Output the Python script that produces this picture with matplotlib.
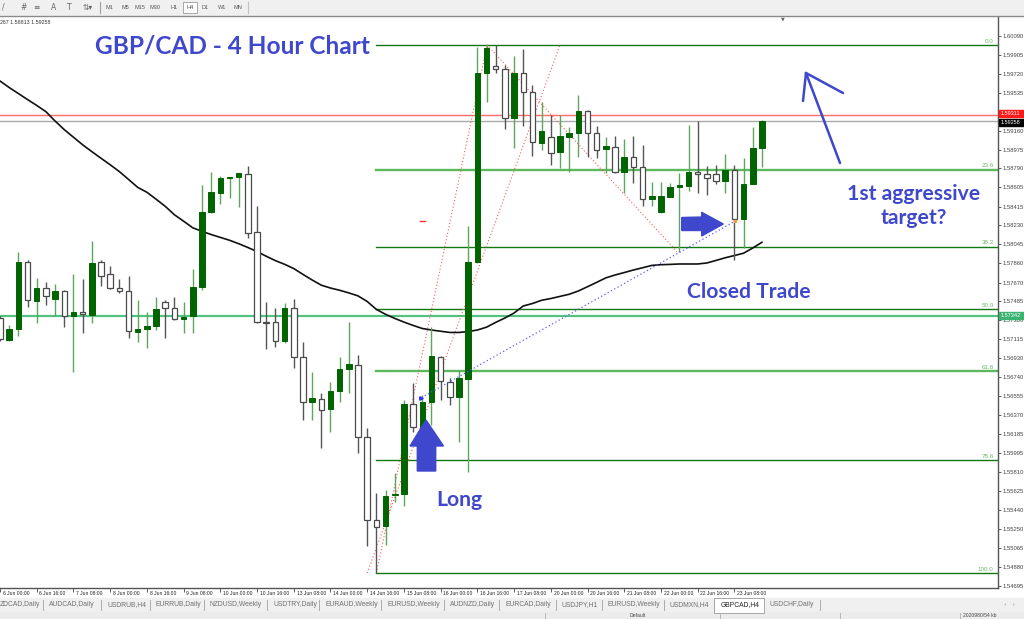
import numpy as np
import matplotlib.pyplot as plt
from matplotlib.patches import Polygon, Rectangle

W, H = 1024, 619

# GBPCAD H4 candles, bar 0 = 6 Jun 00:00
opens = [1.57319, 1.57106, 1.57211, 1.57874, 1.57492, 1.57619, 1.57505, 1.57590, 1.57342, 1.57378,
         1.57348, 1.57869, 1.57751, 1.57613, 1.57590, 1.57187, 1.57211, 1.57243, 1.57482, 1.57423,
         1.57309, 1.57342, 1.57629, 1.58359, 1.58546, 1.58696, 1.58703, 1.58732, 1.58163, 1.57286,
         1.57280, 1.57099, 1.57423, 1.56942, 1.56494, 1.56530, 1.56426, 1.56608, 1.56821, 1.56861,
         1.56157, 1.55339, 1.55280, 1.55582, 1.55591, 1.56475, 1.56255, 1.56494, 1.56936, 1.56697,
         1.56549, 1.56723, 1.57874, 1.59724, 1.59795, 1.59763, 1.59288, 1.59724, 1.59543, 1.59037,
         1.59101, 1.58948, 1.59101, 1.59135, 1.59354, 1.59135, 1.58984, 1.59003, 1.58752, 1.58899,
         1.58801, 1.58487, 1.58365, 1.58512, 1.58611, 1.58620, 1.58758, 1.58732, 1.58732, 1.58669,
         1.58774, 1.58291, 1.58637, 1.58987]
highs = [1.57342, 1.57253, 1.57967, 1.57891, 1.57717, 1.57678, 1.57656, 1.57597, 1.57751, 1.57702,
         1.58075, 1.57891, 1.57832, 1.57705, 1.57734, 1.57499, 1.57378, 1.57525, 1.57494, 1.57525,
         1.57479, 1.57800, 1.58627, 1.58758, 1.58716, 1.58709, 1.58745, 1.58814, 1.58424, 1.57476,
         1.57423, 1.57466, 1.57511, 1.57086, 1.56795, 1.56583, 1.56697, 1.56942, 1.57286, 1.56959,
         1.56239, 1.55601, 1.55634, 1.55803, 1.56517, 1.56681, 1.56566, 1.57236, 1.56950, 1.56730,
         1.56811, 1.58228, 1.59982, 1.60001, 1.60001, 1.59805, 1.59893, 1.59962, 1.59609, 1.59445,
         1.59314, 1.59314, 1.59194, 1.59511, 1.59363, 1.59209, 1.59101, 1.59108, 1.59079, 1.59108,
         1.59020, 1.58660, 1.58660, 1.58650, 1.58742, 1.59216, 1.59255, 1.58814, 1.58824, 1.58929,
         1.58824, 1.58889, 1.59194, 1.59265]
lows = [1.57096, 1.57101, 1.57148, 1.57433, 1.57276, 1.57449, 1.57342, 1.57236, 1.56789, 1.57178,
        1.57276, 1.57636, 1.57604, 1.57564, 1.57129, 1.57089, 1.57027, 1.57204, 1.57129, 1.57302,
        1.57178, 1.57178, 1.57597, 1.58350, 1.58438, 1.58497, 1.58414, 1.58104, 1.57276, 1.57018,
        1.57040, 1.57074, 1.56828, 1.56321, 1.56321, 1.56043, 1.56206, 1.56500, 1.56583, 1.55994,
        1.55084, 1.54816, 1.55094, 1.55519, 1.55477, 1.56206, 1.56223, 1.56272, 1.56517, 1.56468,
        1.56108, 1.55813, 1.57859, 1.59445, 1.59724, 1.59177, 1.58993, 1.59209, 1.58915, 1.58971,
        1.58824, 1.58791, 1.58758, 1.58905, 1.58905, 1.58889, 1.58742, 1.58748, 1.58546, 1.58644,
        1.58421, 1.58421, 1.58352, 1.58512, 1.57973, 1.58571, 1.58552, 1.58529, 1.58634, 1.58546,
        1.57891, 1.58006, 1.58637, 1.58807]
closes = [1.57113, 1.57211, 1.57874, 1.57499, 1.57616, 1.57538, 1.57590, 1.57342, 1.57378, 1.57358,
          1.57859, 1.57734, 1.57613, 1.57590, 1.57194, 1.57211, 1.57243, 1.57407, 1.57417, 1.57309,
          1.57335, 1.57629, 1.58362, 1.58556, 1.58699, 1.58706, 1.58742, 1.58159, 1.57286, 1.57270,
          1.57099, 1.57417, 1.56942, 1.56494, 1.56534, 1.56419, 1.56608, 1.56821, 1.56867, 1.56157,
          1.55339, 1.55273, 1.55575, 1.55591, 1.56475, 1.56255, 1.56494, 1.56949, 1.56704, 1.56549,
          1.56730, 1.57874, 1.59724, 1.59969, 1.59763, 1.59288, 1.59724, 1.59543, 1.59046, 1.59157,
          1.58938, 1.59108, 1.59135, 1.59354, 1.59135, 1.58971, 1.59010, 1.58758, 1.58899, 1.58801,
          1.58487, 1.58519, 1.58519, 1.58611, 1.58627, 1.58752, 1.58732, 1.58693, 1.58669, 1.58774,
          1.58291, 1.58637, 1.58987, 1.59258]
# moving average (black line)
ma = [1.59648, 1.59584, 1.59525, 1.59466, 1.59408, 1.59347, 1.59255, 1.59171, 1.59096, 1.59022,
      1.58955, 1.58890, 1.58826, 1.58759, 1.58682, 1.58604, 1.58556, 1.58488, 1.58418, 1.58335,
      1.58272, 1.58207, 1.58173, 1.58141, 1.58113, 1.58085, 1.58051, 1.58014, 1.57974, 1.57928,
      1.57885, 1.57849, 1.57807, 1.57750, 1.57695, 1.57644, 1.57616, 1.57594, 1.57568, 1.57539,
      1.57484, 1.57406, 1.57358, 1.57318, 1.57282, 1.57249, 1.57219, 1.57204, 1.57192, 1.57180,
      1.57180, 1.57189, 1.57204, 1.57232, 1.57279, 1.57322, 1.57371, 1.57440, 1.57464, 1.57496,
      1.57513, 1.57534, 1.57555, 1.57587, 1.57629, 1.57672, 1.57716, 1.57744, 1.57768, 1.57793,
      1.57815, 1.57838, 1.57845, 1.57848, 1.57852, 1.57852, 1.57852, 1.57862, 1.57887, 1.57913,
      1.57935, 1.57958, 1.58009, 1.58065]

date_labels = ["6 Jun 00:00", "6 Jun 16:00", "7 Jun 08:00", "8 Jun 00:00", "8 Jun 16:00",
               "9 Jun 08:00", "10 Jun 00:00", "10 Jun 16:00", "13 Jun 08:00", "14 Jun 00:00",
               "14 Jun 16:00", "15 Jun 08:00", "16 Jun 00:00", "16 Jun 16:00", "17 Jun 08:00",
               "20 Jun 00:00", "20 Jun 16:00", "21 Jun 08:00", "22 Jun 00:00", "22 Jun 16:00",
               "23 Jun 08:00"]
price_ticks = [1.60090, 1.59905, 1.59720, 1.59535, 1.59345, 1.59160, 1.58975, 1.58790, 1.58605,
               1.58415, 1.58230, 1.58045, 1.57860, 1.57670, 1.57485, 1.57300, 1.57115, 1.56930,
               1.56740, 1.56555, 1.56370, 1.56185, 1.55995, 1.55810, 1.55625, 1.55440, 1.55250,
               1.55065, 1.54880, 1.54695]

fib_levels = [0.0, 23.6, 38.2, 50.0, 61.8, 78.6, 100.0]
fib_high, fib_low, fib_bar = 1.60002, 1.54819, 41
ask_line, bid_line, support_line = 1.59311, 1.59258, 1.57342

tabs = ["ZDCAD,Daily", "AUDCAD,Daily", "USDRUB,H4", "EURRUB,Daily", "NZDUSD,Weekly",
        "USDTRY,Daily", "EURAUD,Weekly", "EURUSD,Weekly", "AUDNZD,Daily", "EURCAD,Daily",
        "USDJPY,H1", "EURUSD,Weekly", "USDMXN,H4", "GBPCAD,H4", "USDCHF,Daily"]
tab_x = [0, 49, 107, 156, 210, 273, 325, 387, 450, 505, 562, 608, 670, 721, 770]
timeframes = ["M1", "M5", "M15", "M30", "H1", "H4", "D1", "W1", "MN"]
tf_x = [109, 125, 140, 155, 174, 190, 205, 222, 238]

BLUE = '#3f48cc'
SMALL = 'Liberation Sans'


def fx(x):
    return x / W


def fy(y):
    return 1 - y / H


fig = plt.figure(figsize=(W / 100, H / 100), dpi=100)
fig.patch.set_facecolor('white')
ax = fig.add_axes([0, (H - 587.7) / H, 997.7 / W, (587.7 - 17) / H])

o, h, l, c = map(np.array, (opens, highs, lows, closes))
x = np.arange(len(c))
up = c >= o
dn = ~up

# horizontal lines
ax.axhline(ask_line, color='#ff6a6a', lw=1, zorder=1)
ax.axhline(bid_line, color='#a9a9a9', lw=1, zorder=1)
ax.axhline(support_line, color='#52c283', lw=1.6, zorder=1)

# fibonacci
x_right = 108.68
for lv in fib_levels:
    p = fib_high - lv / 100 * (fib_high - fib_low)
    light = lv in (23.6, 61.8)
    ax.plot([fib_bar, x_right], [p, p], color='#5cb85c' if light else '#137a13',
            lw=1.7 if light else 1.0, zorder=2)
    ax.text(x_right - 0.45, p + 0.00012, f"{lv:.1f}", ha='right', va='bottom',
            fontsize=4.5, family=SMALL, color='#6cb86c', zorder=5)

# red dotted fib trend lines
ax.plot([fib_bar, 53.06], [fib_low, fib_high], color='#ff5a5a', lw=0.8, ls=(0, (1, 2)), zorder=3)
ax.plot([40.0, 61.0], [fib_low, fib_high], color='#ff5a5a', lw=0.8, ls=(0, (1, 2)), zorder=3)
ax.plot([53.06, 73.74], [fib_high, 1.57973], color='#ff5a5a', lw=0.8, ls=(0, (1, 2)), zorder=3)

# moving average
ax.plot(x, ma, color='#111111', lw=1.2, zorder=4)

# candles
ax.vlines(x[up], l[up], h[up], color='#5fa55f', lw=1.0, zorder=5)
ax.vlines(x[dn], l[dn], h[dn], color='#555555', lw=1.0, zorder=5)
ax.bar(x[up], c[up] - o[up], bottom=o[up], width=0.6, color='#006400',
       edgecolor='#006400', lw=0.7, zorder=6)
ax.bar(x[dn], o[dn] - c[dn], bottom=c[dn], width=0.6, facecolor='white',
       edgecolor='#4a4a4a', lw=0.9, zorder=6)

# closed trade line
ax.plot([45.9, 80.1], [1.56540, 1.58274], color='#5a5aff', lw=0.9, ls=(0, (1, 2)), zorder=7)
ax.plot([45.9], [1.56540], marker='>', color='#3030ff', ms=2.5, zorder=8)
ax.plot([80.1], [1.58274], marker='s', color='#f0a040', ms=2, zorder=8)
ax.plot([45.7, 46.3], [1.58277, 1.58277], color='#ff3030', lw=1, zorder=8)

ax.set_xlim(0.09, x_right)
ax.set_ylim(1.54675, 1.60276)

# axes styling
for s in ('top', 'left'):
    ax.spines[s].set_visible(False)
for s in ('right', 'bottom'):
    ax.spines[s].set_color('#555555')
    ax.spines[s].set_linewidth(1)
ax.yaxis.tick_right()
ax.set_yticks(price_ticks)
ax.set_yticklabels([f"{p:.5f}" for p in price_ticks], fontsize=4.2, family=SMALL,
                   color='#222222')
ax.tick_params(axis='y', length=2.2, width=0.6, pad=1.0, colors='#444444')
ax.set_xticks(np.arange(len(date_labels)) * 4)
ax.set_xticklabels([])
ax.tick_params(axis='x', length=3, width=0.6, colors='#444444')
for i, lab in enumerate(date_labels):
    ax.annotate(lab, xy=(i * 4, 0), xycoords=('data', 'axes fraction'), xytext=(2.0, -2.2),
                textcoords='offset points', ha='left', va='top', fontsize=3.6,
                family=SMALL, color='#222222')

# price boxes on the right axis (red ask box nudged up, black bid box down, as MT4 stacks them)
for price, bg, shift in ((ask_line, '#ff1a1a', -2.2), (bid_line, '#000000', 1.6),
                         (support_line, '#3cb371', 0)):
    ypix = (1.60443 - price) / 0.00009815 + shift
    fig.patches.append(Rectangle((fx(998.5), fy(ypix + 3.5)), fx(25.5), 7 / H,
                                 transform=fig.transFigure, color=bg, zorder=10))
    fig.text(fx(1000.5), fy(ypix), f"{price:.5f}", color='white', fontsize=4.0,
             family=SMALL, va='center', ha='left', zorder=11)

# annotations
fig.text(fx(95), fy(46), "GBP/CAD - 4 Hour Chart", color=BLUE, fontsize=17.6,
         family='Lato', weight='bold', va='center', ha='left')
fig.text(fx(914), fy(206), "1st aggressive\ntarget?", color=BLUE, fontsize=15.2,
         family='Lato', weight='bold', va='center', ha='center', linespacing=1.3)
fig.text(fx(749), fy(292), "Closed Trade", color=BLUE, fontsize=15.2,
         family='Lato', weight='bold', va='center', ha='center')
fig.text(fx(459), fy(500), "Long", color=BLUE, fontsize=15.2,
         family='Lato', weight='bold', va='center', ha='center')

up_arrow = [(426, 420), (443.5, 446), (435.7, 446), (435.7, 471), (417.3, 471), (417.3, 446), (410, 446)]
right_arrow = [(723.3, 224), (701.7, 212.3), (701.7, 217), (681.7, 217.5), (681.7, 230.5), (701.7, 230.5), (701.7, 236)]
for pts in (up_arrow, right_arrow):
    fig.patches.append(Polygon([(fx(a), fy(b)) for a, b in pts], closed=True,
                               transform=fig.transFigure, color=BLUE, zorder=12))
for seg in (((840, 163), (806, 73)), ((806, 73), (803, 101)), ((806, 73), (843, 93))):
    fig.add_artist(plt.Line2D([fx(seg[0][0]), fx(seg[1][0])], [fy(seg[0][1]), fy(seg[1][1])],
                              transform=fig.transFigure, color=BLUE, lw=1.8,
                              solid_capstyle='round'))

# toolbar
fig.patches.append(Rectangle((0, fy(15)), 1, 15 / H, transform=fig.transFigure,
                             color='#f0f0f0', zorder=0))
fig.add_artist(plt.Line2D([0, 1], [fy(15.5), fy(15.5)], transform=fig.transFigure,
                          color='#8a8a8a', lw=1))
for tx, sym in ((2, '/'), (20, '#'), (33, '≡'), (51, 'A'), (67, 'T'), (83, '⇅▾')):
    fig.text(fx(tx), fy(7.5), sym, fontsize=5.5, color='#666666', va='center', ha='left')
for tf, tx in zip(timeframes, tf_x):
    fig.text(fx(tx), fy(7.5), tf, fontsize=4.0, family=SMALL, color='#555555',
             va='center', ha='center')
fig.patches.append(Rectangle((fx(183), fy(13)), fx(14), 11 / H, transform=fig.transFigure,
                             facecolor='white', edgecolor='#9a9a9a', lw=0.6, zorder=1))
fig.add_artist(plt.Line2D([fx(100), fx(100)], [fy(2), fy(13)], transform=fig.transFigure,
                          color='#a0a0a0', lw=0.8))
fig.add_artist(plt.Line2D([fx(248), fx(248)], [fy(2), fy(13)], transform=fig.transFigure,
                          color='#c0c0c0', lw=0.8))
fig.text(fx(0.5), fy(23), "267 1.58813 1.59258", fontsize=3.8, family=SMALL,
         color='#333333', va='center')
fig.text(fx(783), fy(18.5), "▼", fontsize=3.5, color='#666666', va='center', ha='center')

# symbol tabs
fig.patches.append(Rectangle((0, fy(612)), 1, 14 / H, transform=fig.transFigure,
                             color='#f0f0f0', zorder=0))
fig.patches.append(Rectangle((fx(714), fy(613)), fx(50), 15 / H, transform=fig.transFigure,
                             facecolor='white', edgecolor='#9a9a9a', lw=0.6, zorder=1))
for name, tx in zip(tabs, tab_x):
    fig.text(fx(tx), fy(605), name, fontsize=4.9, family=SMALL, va='center', ha='left',
             color='#222222' if name == "GBPCAD,H4" else '#707070')
    if tx > 10 and name != "GBPCAD,H4" and name != "USDCHF,Daily":
        fig.add_artist(plt.Line2D([fx(tx - 6), fx(tx - 6)], [fy(600), fy(610)],
                                  transform=fig.transFigure, color='#a0a0a0', lw=0.6))
fig.add_artist(plt.Line2D([fx(820), fx(820)], [fy(600), fy(610)],
                          transform=fig.transFigure, color='#a0a0a0', lw=0.6))
fig.text(fx(1004), fy(605), "‹   ›", fontsize=4.5, color='#888888', va='center', ha='left')

# status bar
fig.patches.append(Rectangle((0, 0), 1, 7 / H, transform=fig.transFigure,
                             color='#ececec', zorder=0))
fig.text(fx(630), fy(615.8), "Default", fontsize=3.6, family=SMALL, color='#444444',
         va='center')
for sx in (545, 720, 840, 960):
    fig.add_artist(plt.Line2D([fx(sx), fx(sx)], [0, fy(613)], transform=fig.transFigure,
                              color='#b0b0b0', lw=0.6))
fig.text(fx(963), fy(615.8), "2020980/54 kb", fontsize=3.6, family=SMALL,
         color='#444444', va='center')

fig.savefig('out.png', dpi=100)
